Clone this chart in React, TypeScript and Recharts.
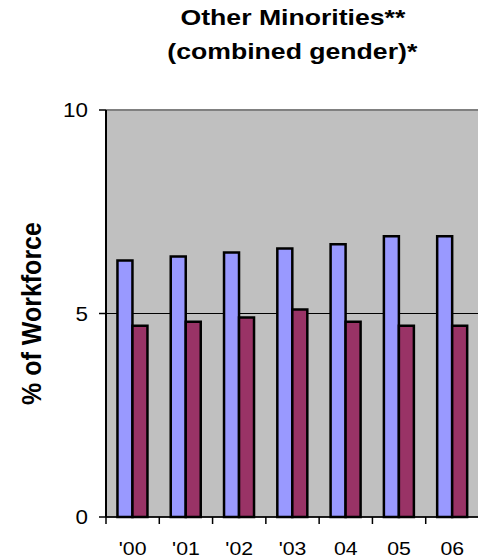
import { BarChart, Bar, XAxis, YAxis, CartesianGrid, ReferenceLine } from 'recharts'

const years = ["'00", "'01", "'02", "'03", '04', '05', '06']
const seriesA = [6.3, 6.4, 6.5, 6.6, 6.7, 6.9, 6.9]
const seriesB = [4.7, 4.8, 4.9, 5.1, 4.8, 4.7, 4.7]
const yTicks = [0, 5, 10]

const data = years.map((year, i) => ({ year, a: seriesA[i], b: seriesB[i] }))

const FONT = '"Liberation Sans", Arial, sans-serif'
const STRETCH = 1.12

const XTick = (props: any) => {
  const { x, y, payload, width, visibleTicksCount } = props
  const half = payload.offset ?? width / visibleTicksCount / 2
  return (
    <g>
      <line x1={x - half} x2={x - half} y1={y} y2={y + 7} stroke="#000" strokeWidth={1.5} />
      <g transform={`translate(${x},${y + 38}) scale(${STRETCH},1)`}>
        <text x={0} y={0} textAnchor="middle" fontSize={19} fontFamily={FONT} fill="#000">
          {payload.value}
        </text>
      </g>
    </g>
  )
}

const YTick = (props: any) => {
  const { x, y, payload } = props
  return (
    <g transform={`translate(${x},${y + 7}) scale(${STRETCH},1)`}>
      <text x={0} y={0} textAnchor="end" fontSize={20} fontFamily={FONT} fill="#000">
        {payload.value}
      </text>
    </g>
  )
}

const YLabel = (props: any) => {
  const { viewBox } = props
  const cx = viewBox.x + viewBox.width * 0.3
  const cy = viewBox.y + viewBox.height / 2
  return (
    <g transform={`translate(${cx},${cy}) scale(1.1,1) rotate(-90)`}>
      <text x={0} y={0} textAnchor="middle" dominantBaseline="central" fontSize={25} fontWeight="bold" fontFamily={FONT} fill="#000">
        % of Workforce
      </text>
    </g>
  )
}

const titleLine = {
  position: 'absolute' as const,
  left: 106,
  width: 373,
  height: 34,
  lineHeight: '34px',
  textAlign: 'center' as const,
  fontFamily: FONT,
  fontWeight: 'bold' as const,
  fontSize: 22,
  color: '#000',
}

export default function App() {
  return (
    <div style={{ position: 'absolute', left: 0, top: 0, width: 478, height: 560, overflow: 'hidden', background: '#fff' }}>
      <div style={{ ...titleLine, top: 1 }}>
        <span style={{ display: 'inline-block', transform: 'scaleX(1.21)' }}>Other Minorities**</span>
      </div>
      <div style={{ ...titleLine, top: 35 }}>
        <span style={{ display: 'inline-block', transform: 'scaleX(1.21)' }}>(combined gender)*</span>
      </div>
      <BarChart
        width={490}
        height={560}
        data={data}
        margin={{ top: 110, right: 11, bottom: 0, left: 0 }}
        barCategoryGap="21.5%"
        barGap={0}
      >
        <CartesianGrid vertical={false} fill="#C0C0C0" stroke="#000" strokeWidth={1} fillOpacity={1} />
        <ReferenceLine y={10} stroke="#808080" strokeWidth={2} />
        <XAxis
          dataKey="year"
          height={43}
          axisLine={{ stroke: '#000', strokeWidth: 1.5 }}
          tickLine={false}
          tickSize={0}
          tickMargin={0}
          interval={0}
          tick={<XTick />}
        />
        <YAxis
          width={106}
          domain={[0, 10]}
          ticks={yTicks}
          interval={0}
          axisLine={{ stroke: '#000', strokeWidth: 2 }}
          tickLine={{ stroke: '#000', strokeWidth: 1.5 }}
          tickSize={7}
          tickMargin={11}
          tick={<YTick />}
          label={<YLabel />}
        />
        <Bar dataKey="a" fill="#9999FF" stroke="#000" strokeWidth={2.5} isAnimationActive={false} />
        <Bar dataKey="b" fill="#993366" stroke="#000" strokeWidth={2.5} isAnimationActive={false} />
      </BarChart>
    </div>
  )
}
